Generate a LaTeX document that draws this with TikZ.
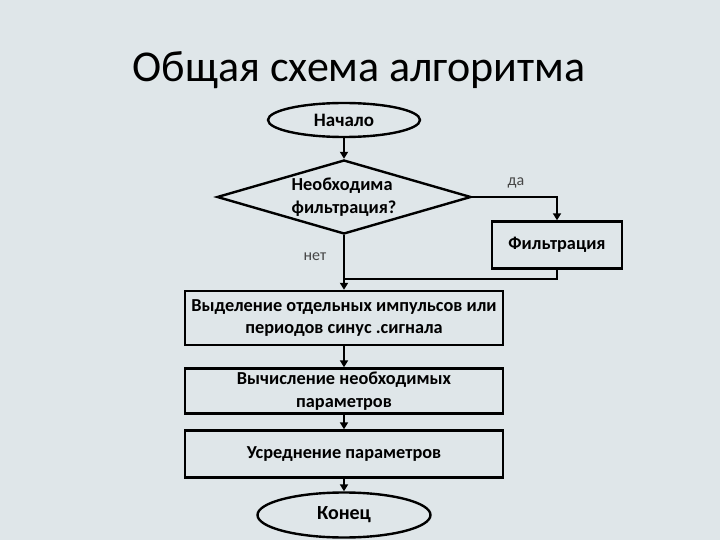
\documentclass[tikz,border=0pt]{standalone}
\usepackage{fontspec}
\setmainfont{Carlito}
\usetikzlibrary{shapes.geometric,arrows.meta}
\definecolor{slidebg}{RGB}{223,230,233}
\definecolor{labelgray}{RGB}{70,70,70}
\tikzset{
  flow/.style={draw=black, line width=2.4pt},
  arr/.style={flow, -{Triangle[length=7pt,width=8pt]}},
  boxtext/.style={font=\fontsize{18.3}{22.5}\selectfont\bfseries, align=center, inner sep=0pt},
  stepbox/.style={boxtext, draw=black, line width=2.4pt, rectangle, minimum width=318pt},
  term/.style={boxtext, draw=black, line width=2.4pt, ellipse},
}
\begin{document}
\begin{tikzpicture}[x=1pt,y=-1pt]
\useasboundingbox[fill=slidebg] (0,0) rectangle (720,540);

%title of the slide
\node[anchor=base, font=\fontsize{44}{50}\selectfont] (title) at (359,82) {Общая схема алгоритма};

%draw the blocks
\node[term, minimum width=152pt, minimum height=34pt, font=\fontsize{19}{22}\selectfont\bfseries] (start) at (344,120) {Начало};
\node[boxtext, draw=black, line width=2.4pt, diamond, aspect=3.4, minimum width=254pt, minimum height=74pt, align=left] (check) at (344,197) {Необходима\\фильтрация?};
\node[stepbox, minimum width=130pt, minimum height=47pt] (filt) at (557,245) {Фильтрация};
\node[stepbox, minimum height=54pt] (sel) at (344,318) {Выделение отдельных импульсов или\\периодов синус .сигнала};
\node[stepbox, minimum height=45pt] (calc) at (344,391) {Вычисление необходимых\\параметров};
\node[stepbox, minimum height=47pt] (avg) at (344,454) {Усреднение параметров};
\node[term, minimum width=173pt, minimum height=45pt, font=\fontsize{20}{24}\selectfont\bfseries] (stop) at (344,515) {Конец};

%labels of the branches
\node[text=labelgray, font=\fontsize{16}{18}\selectfont] (yes) at (516,183) {да};
\node[text=labelgray, font=\fontsize{16}{18}\selectfont] (no) at (315,257) {нет};

%draw the arrows
\coordinate (join) at (344,279);
\draw[arr] (start) -- (check);
\draw[arr] (check.east) -| (filt.north);
\draw[flow] (filt.south) |- (join);
\draw[arr] (check.south) -- (sel.north);
\draw[arr] (sel) -- (calc);
\draw[arr] (calc) -- (avg);
\draw[arr] (avg) -- (stop);

\end{tikzpicture}
\end{document}
